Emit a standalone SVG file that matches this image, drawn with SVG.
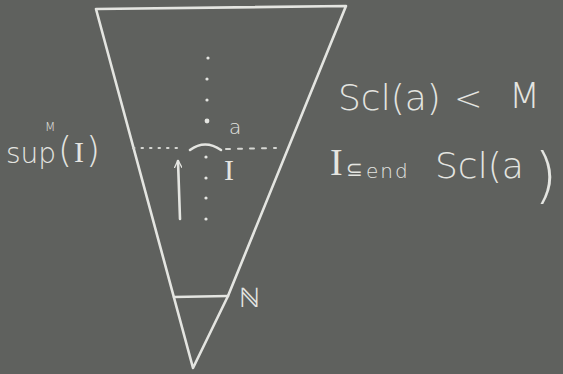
<svg xmlns="http://www.w3.org/2000/svg" width="563" height="374" viewBox="0 0 563 374">
<defs>
<style>
.ch{fill:none;stroke:#e4e5e1;stroke-width:2.6;stroke-linecap:round;stroke-linejoin:round}
.dl{fill:none;stroke:#d6d7d3;stroke-width:2;stroke-linecap:round}
.t{fill:#e4e5e1;font-family:"DejaVu Sans","Liberation Sans",sans-serif;font-weight:300}
.s{fill:#e4e5e1;font-family:"Liberation Serif","DejaVu Serif",serif}
.dot{fill:#e4e5e1}
</style>
<marker id="ah" viewBox="0 0 10 10" refX="9" refY="5" markerWidth="8" markerHeight="8" orient="auto" markerUnits="userSpaceOnUse">
<path d="M0,0 L10,5 L0,10" fill="none" stroke="#e4e5e1" stroke-width="1.6"/>
</marker>
</defs>
<rect width="563" height="374" fill="#5f615e"/>
<g id="tree">
<path class="ch" d="M96,9 L346,6 L228,296 L193,368 Z"/>
<path class="ch" d="M174,297 L228,296"/>
</g>
<g id="cut">
<path class="dl" d="M133,148 L180,148" stroke-dasharray="1.5 7"/>
<path class="dl" d="M226,149 L276,148" stroke-dasharray="4 8"/>
<path class="ch" d="M190,150 Q205,139 221,150"/>
</g>
<g id="spine">
<circle class="dot" cx="208" cy="58" r="1.6"/>
<circle class="dot" cx="207" cy="79" r="1.6"/>
<circle class="dot" cx="207" cy="100" r="1.6"/>
<circle class="dot" cx="207" cy="121" r="2.4"/>
<circle class="dot" cx="206" cy="157" r="1.6"/>
<circle class="dot" cx="206" cy="178" r="1.6"/>
<circle class="dot" cx="206" cy="198" r="1.6"/>
<circle class="dot" cx="206" cy="219" r="1.6"/>
</g>
<g id="connectors">
<path class="ch" d="M180,219 L178,161" stroke-width="2" marker-end="url(#ah)"/>
</g>
<g id="labels">
<text class="t" x="229" y="134" font-size="20">a</text>
<text class="s" x="224" y="180" font-size="30">I</text>
<text class="t" x="239" y="307" font-size="27">ℕ</text>
<text class="t" x="6" y="163" font-size="28">sup</text>
<text class="t" x="45" y="131" font-size="12">M</text>
<text class="t" x="58" y="162" font-size="36" letter-spacing="2">(<tspan class="s" font-size="30">I</tspan>)</text>
<text class="t" x="338" y="110" font-size="36">Scl(a)</text>
<text class="t" x="454" y="110" font-size="34">&lt;</text>
<text class="t" x="509" y="108" font-size="36">M</text>
<text class="s" x="330" y="175" font-size="38">I</text>
<text class="t" x="346" y="176" font-size="20">⊆</text>
<text class="t" x="366" y="178" font-size="20" letter-spacing="2">end</text>
<text class="t" x="435" y="178" font-size="36">Scl(a</text>
<text class="t" x="534" y="196" font-size="60">)</text>
</g>
</svg>
